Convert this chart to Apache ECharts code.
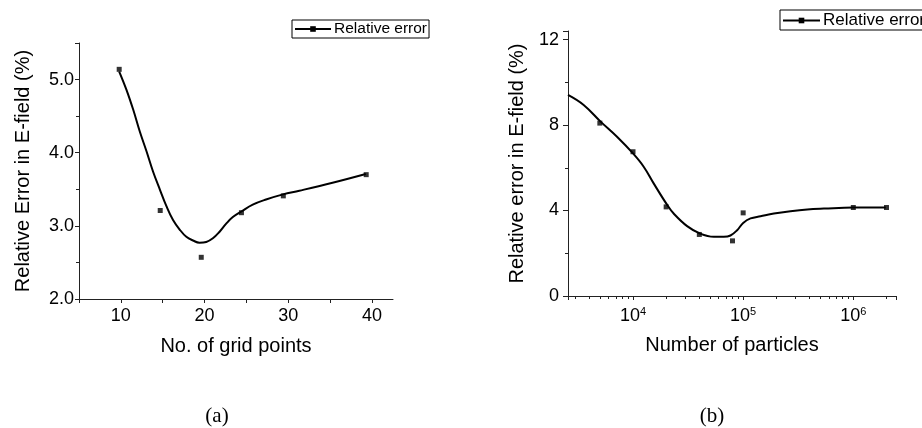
<!DOCTYPE html>
<html>
<head>
<meta charset="utf-8">
<script src="https://cdn.jsdelivr.net/npm/echarts@6/dist/echarts.min.js"></script>
<style>
  html, body { margin: 0; padding: 0; background: #fff; }
  #main { width: 922px; height: 428px; }
</style>
</head>
<body>
<div id="main"></div>
<script>
// (a) 网格点数 vs 相对误差 —— 测量点
var gridPointsX = [9.8, 14.7, 19.6, 24.4, 29.4, 39.3]
var gridPointsErr = [5.14, 3.21, 2.57, 3.18, 3.41, 3.70]
// (a) 拟合曲线
var gridFitX = [9.8, 10.67, 11.47, 12.26, 13.06, 13.85, 14.68, 15.44, 16.23, 17.02, 17.82, 18.61, 19.4, 20.2, 20.99, 21.79, 22.58, 23.37, 24.44, 25.75, 27.34, 29.37, 31.31, 35.28, 39.25]
var gridFitErr = [5.11, 4.86, 4.59, 4.29, 4.02, 3.74, 3.49, 3.27, 3.08, 2.95, 2.85, 2.80, 2.77, 2.78, 2.83, 2.92, 3.03, 3.12, 3.20, 3.29, 3.36, 3.43, 3.48, 3.59, 3.71]

// (b) 粒子数 vs 相对误差 —— 测量点
var particlesN = [5000, 10000, 20000, 40000, 80000, 100000, 1000000, 2000000]
var particlesErr = [8.09, 6.75, 4.17, 2.88, 2.58, 3.89, 4.14, 4.14]
// (b) 拟合曲线
var particlesFitN = [2570, 3565, 5080, 7160, 10000, 12500, 15400, 20500, 23400, 31000, 40700, 54100, 66700, 76700, 88200, 100000, 116600, 143800, 190000, 269000, 381700, 541000, 1000000, 1970000]
var particlesFitErr = [9.41, 8.94, 8.16, 7.45, 6.67, 6.05, 5.27, 4.25, 3.86, 3.27, 2.92, 2.77, 2.77, 2.83, 3.08, 3.42, 3.63, 3.73, 3.86, 3.97, 4.05, 4.09, 4.14, 4.14]

// 坐标轴刻度设置
var gridXTicks = { min: 5, max: 42.5, interval: 5 }
var gridYTicks = { min: 2, max: 5.5, interval: 1 }
var partXTicks = { min: 2570, max: 2440000 }
var partYTicks = { min: 0, max: 12.4, interval: 4 }

function zip(xs, ys) {
  return xs.map(function (x, i) { return [x, ys[i]] })
}

var font = 'Liberation Sans, Arial, sans-serif'
var axisLineStyle = { color: '#222', width: 1 }

var myChart = echarts.init(document.getElementById('main'))

var option = {
  animation: false,
  backgroundColor: '#fff',
  textStyle: { fontFamily: font, color: '#000' },
  title: [
    { text: '(a)', left: 212, top: 401, textAlign: 'center',
      textStyle: { fontFamily: 'Liberation Serif, serif', fontSize: 21, fontWeight: 'normal', color: '#000' } },
    { text: '(b)', left: 707, top: 401, textAlign: 'center',
      textStyle: { fontFamily: 'Liberation Serif, serif', fontSize: 21, fontWeight: 'normal', color: '#000' } }
  ],
  legend: [
    {
      data: ['Relative error'], left: 292, top: 20, orient: 'horizontal',
      borderColor: '#000', borderWidth: 1, borderRadius: 0, padding: [1, 2, 1, 2],
      itemWidth: 36, itemHeight: 7,
      textStyle: { fontFamily: font, fontSize: 15.5, color: '#000', padding: [0, 0, 0, -2] }
    },
    {
      data: ['Relative error'], left: 780, top: 10, orient: 'horizontal',
      borderColor: '#000', borderWidth: 1, borderRadius: 0, padding: [2, 2, 1, 2],
      itemWidth: 37, itemHeight: 7,
      textStyle: { fontFamily: font, fontSize: 17, color: '#000', padding: [0, 0, 0, -2] }
    }
  ],
  grid: [
    { left: 79, top: 43, width: 314, height: 256 },
    { left: 568, top: 31, width: 328, height: 265 }
  ],
  xAxis: [
    {
      type: 'value', gridIndex: 0,
      min: gridXTicks.min, max: gridXTicks.max, interval: gridXTicks.interval,
      name: 'No. of grid points', nameLocation: 'middle', nameGap: 37,
      nameTextStyle: { fontSize: 20, color: '#000' },
      axisLine: { lineStyle: axisLineStyle },
      axisTick: { show: true, length: 4, lineStyle: axisLineStyle },
      axisLabel: {
        fontSize: 18, color: '#000', margin: 8,
        showMaxLabel: false,
        formatter: function (v) { return v % 10 === 0 ? String(v) : '' }
      },
      splitLine: { show: false }
    },
    {
      type: 'log', logBase: 10, gridIndex: 1,
      min: partXTicks.min, max: partXTicks.max,
      name: 'Number of particles', nameLocation: 'middle', nameGap: 39,
      nameTextStyle: { fontSize: 20, color: '#000' },
      axisLine: { lineStyle: axisLineStyle },
      axisTick: { show: true, length: 4, lineStyle: axisLineStyle },
      minorTick: { show: true, splitNumber: 9, length: 3, lineStyle: axisLineStyle },
      axisLabel: {
        fontSize: 18, color: '#000', margin: 10,
        showMinLabel: false, showMaxLabel: false,
        formatter: function (v) {
          var e = Math.log10(v)
          if (Math.abs(e - Math.round(e)) < 1e-6) return '10{sup|' + Math.round(e) + '}'
          return ''
        },
        rich: {
          sup: { fontSize: 11, color: '#000', fontFamily: font, padding: [0, 0, 10, 0] }
        }
      },
      splitLine: { show: false }
    }
  ],
  yAxis: [
    {
      type: 'value', gridIndex: 0,
      min: gridYTicks.min, max: gridYTicks.max, interval: gridYTicks.interval,
      name: 'Relative Error in E-field (%)', nameLocation: 'middle', nameGap: 46,
      nameTextStyle: { fontSize: 20, color: '#000' },
      axisLine: { show: true, lineStyle: axisLineStyle },
      axisTick: { show: true, length: 4, lineStyle: axisLineStyle },
      minorTick: { show: true, splitNumber: 2, length: 3, lineStyle: axisLineStyle },
      axisLabel: {
        fontSize: 18, color: '#000', margin: 5, showMaxLabel: false,
        formatter: function (v) { return v.toFixed(1) }
      },
      splitLine: { show: false }
    },
    {
      type: 'value', gridIndex: 1,
      min: partYTicks.min, max: partYTicks.max, interval: partYTicks.interval,
      name: 'Relative error in E-field (%)', nameLocation: 'middle', nameGap: 41,
      nameTextStyle: { fontSize: 20, color: '#000' },
      axisLine: { show: true, lineStyle: axisLineStyle },
      axisTick: { show: true, length: 5, lineStyle: axisLineStyle },
      minorTick: { show: true, splitNumber: 2, length: 3, lineStyle: axisLineStyle },
      axisLabel: { fontSize: 18, color: '#000', margin: 9, showMaxLabel: false },
      splitLine: { show: false }
    }
  ],
  series: [
    {
      name: 'Relative error', type: 'line', xAxisIndex: 0, yAxisIndex: 0,
      data: zip(gridFitX, gridFitErr), smooth: 0.4,
      symbol: 'rect', symbolSize: 5, showSymbol: false,
      lineStyle: { color: '#000', width: 2 }, itemStyle: { color: '#000' }
    },
    {
      name: 'points a', type: 'scatter', xAxisIndex: 0, yAxisIndex: 0,
      data: zip(gridPointsX, gridPointsErr),
      symbol: 'rect', symbolSize: 5, itemStyle: { color: '#000' }
    },
    {
      name: 'Relative error', type: 'line', xAxisIndex: 1, yAxisIndex: 1,
      data: zip(particlesFitN, particlesFitErr), smooth: 0.4,
      symbol: 'rect', symbolSize: 5, showSymbol: false,
      lineStyle: { color: '#000', width: 2 }, itemStyle: { color: '#000' }
    },
    {
      name: 'points b', type: 'scatter', xAxisIndex: 1, yAxisIndex: 1,
      data: zip(particlesN, particlesErr),
      symbol: 'rect', symbolSize: 5, itemStyle: { color: '#000' }
    }
  ]
}

myChart.setOption(option)
</script>
</body>
</html>
